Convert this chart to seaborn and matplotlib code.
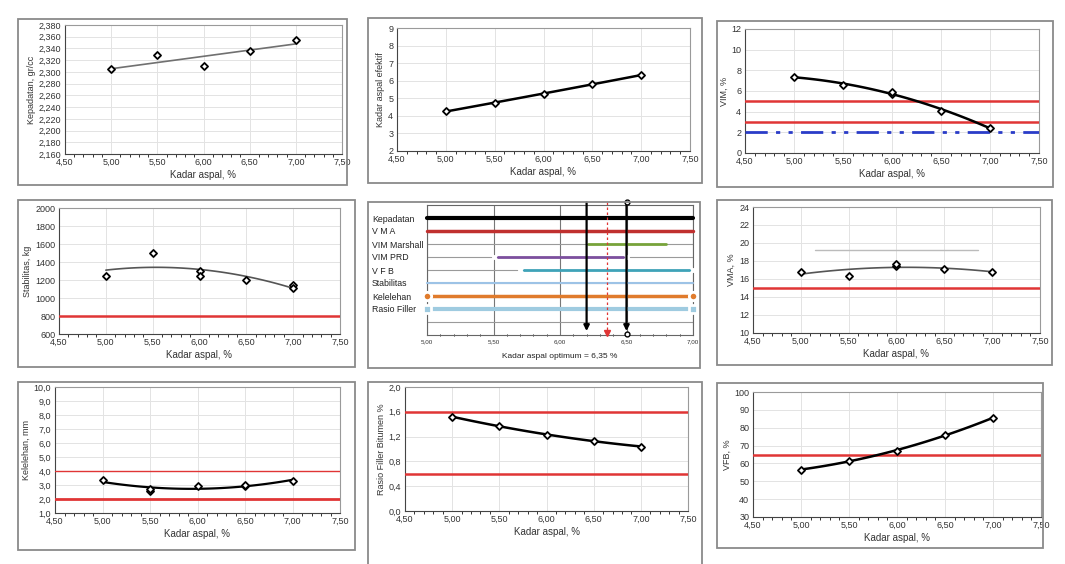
import numpy as np
import pandas as pd
import matplotlib
matplotlib.use("Agg")
import matplotlib.pyplot as plt
from matplotlib.patches import Rectangle
from matplotlib.ticker import FuncFormatter, MultipleLocator
import seaborn as sns

sns.set_style("white")
plt.rcParams['font.family'] = ['Liberation Sans', 'DejaVu Sans']

# ---------------- data ----------------
kadar = [5.0, 5.5, 6.0, 6.5, 7.0]

# Kepadatan
kep_x = [5.0, 5.5, 6.0, 6.5, 7.0]
kep_y = [2.305, 2.328, 2.310, 2.336, 2.354]
# Kadar aspal efektif
eff_y = [4.25, 4.75, 5.27, 5.80, 6.32]
# VIM
vim_x = [5.0, 5.5, 6.0, 6.0, 6.5, 7.0]
vim_y = [7.35, 6.6, 5.75, 5.9, 4.05, 2.45]
vim_limits = [5.0, 3.0]
vim_prd_limit = 2.0
# Stabilitas
stab_x = [5.0, 5.5, 6.0, 6.0, 6.5, 7.0, 7.0]
stab_y = [1245, 1500, 1300, 1245, 1200, 1140, 1110]
stab_limit = 800
# VMA
vma_x = [5.0, 5.5, 6.0, 6.0, 6.5, 7.0]
vma_y = [16.8, 16.35, 17.5, 17.7, 17.1, 16.75]
vma_limit = 15
vma_ref_line = [5.15, 6.85, 19.2]
# Kelelehan
flow_x = [5.0, 5.5, 5.5, 6.0, 6.5, 6.5, 7.0]
flow_y = [3.35, 2.6, 2.75, 2.9, 2.9, 3.0, 3.3]
flow_limits = [4.0, 2.0]
# Rasio filler bitumen
rfb_y = [1.52, 1.37, 1.23, 1.13, 1.04]
rfb_limits = [1.6, 0.6]
# VFB
vfb_y = [56.5, 61.5, 67.0, 76.0, 85.5]
vfb_limit = 65

# Summary chart (panel 5)
rows = ["Kepadatan", "V M A", "VIM Marshall", "VIM PRD", "V F B",
        "Stabilitas", "Kelelehan", "Rasio Filler"]
row_start = [5.0, 5.0, 6.21, 5.5, 5.7, 5.0, 5.0, 5.0]
row_end = [7.0, 7.0, 6.8, 6.5, 7.0, 7.0, 7.0, 7.0]
row_colors = ["#000000", "#c0302f", "#77a33a", "#7c4f9e", "#3fa3b8",
              "#9dc3e6", "#e07b2c", "#9fcbe0"]
row_markers = [None, None, None, "x", "x", None, "o", "s"]
row_lw = [3.0, 2.5, 2.0, 2.0, 2.0, 1.5, 2.5, 3.0]
range_bounds = [6.2, 6.5]
optimum = 6.35

# ---------------- layout ----------------
W, H = 1065, 564
fig = plt.figure(figsize=(W / 100, H / 100), dpi=100)
fig.patch.set_facecolor("white")


def box(x0, y0, x1, y1):
    fig.patches.append(Rectangle((x0 / W, 1 - y1 / H), (x1 - x0) / W, (y1 - y0) / H,
                                 transform=fig.transFigure, fill=False,
                                 edgecolor="#8a8a8a", lw=1.3))


def make_ax(x0, y0, x1, y1):
    return fig.add_axes([x0 / W, 1 - y1 / H, (x1 - x0) / W, (y1 - y0) / H])


def comma(dec):
    def f(v, pos):
        s = f"{v:.{dec}f}"
        return s.replace(".", ",")
    return FuncFormatter(f)


def style(ax, ylim, ystep, ydec, ylabel, xlabel="Kadar aspal, %"):
    ax.set_xlim(4.5, 7.5)
    ax.set_ylim(*ylim)
    ax.xaxis.set_major_locator(MultipleLocator(0.5))
    ax.xaxis.set_minor_locator(MultipleLocator(0.1))
    ax.yaxis.set_major_locator(MultipleLocator(ystep))
    ax.xaxis.set_major_formatter(comma(2))
    ax.yaxis.set_major_formatter(comma(ydec))
    ax.tick_params(axis="both", which="major", labelsize=6.5, length=2.5,
                   width=0.7, color="#333333", pad=1.5, labelcolor="#333333")
    ax.tick_params(axis="x", which="minor", length=2, width=0.7, color="#333333",
                   bottom=True)
    ax.tick_params(axis="both", direction="inout")
    ax.grid(True, which="major", color="#e3e3e3", lw=0.7)
    ax.set_axisbelow(True)
    for s in ["top", "right"]:
        ax.spines[s].set_color("#9a9a9a")
        ax.spines[s].set_linewidth(0.8)
    for s in ["left", "bottom"]:
        ax.spines[s].set_color("#444444")
        ax.spines[s].set_linewidth(0.8)
    ax.set_ylabel(ylabel, fontsize=6.5, color="#333333", labelpad=2)
    ax.set_xlabel(xlabel, fontsize=7, color="#333333", labelpad=2)


def pts(ax, x, y, size=13):
    sns.scatterplot(x=x, y=y, ax=ax, marker="D", s=size, facecolor="white",
                    edgecolor="black", linewidth=1.3, zorder=5, legend=False)


def trend(ax, x, y, deg, color="#555555", lw=1.2):
    c = np.polyfit(x, y, deg)
    xs = np.linspace(min(x), max(x), 100)
    sns.lineplot(x=xs, y=np.polyval(c, xs), ax=ax, color=color, lw=lw, zorder=4)


def red(ax, y, lw=1.8):
    ax.axhline(y, color="#e03535", lw=lw, zorder=3)


# Panel 1: Kepadatan
box(18, 19, 347, 185)
ax = make_ax(65, 25, 342, 154)
style(ax, (2.16, 2.38), 0.02, 3, "Kepadatan, gr/cc")
trend(ax, kep_x, kep_y, 1, color="#707070", lw=1.2)
pts(ax, kep_x, kep_y)

# Panel 2: Kadar aspal efektif
box(368, 18, 702, 183)
ax = make_ax(397, 28, 690, 151)
style(ax, (2, 9), 1, 0, "Kadar aspal efektif")
trend(ax, kadar, eff_y, 2, color="black", lw=1.8)
pts(ax, kadar, eff_y)

# Panel 3: VIM
box(717, 21, 1053, 187)
ax = make_ax(745, 29, 1039, 153)
style(ax, (0, 12), 2, 0, "VIM, %")
for v in vim_limits:
    red(ax, v)
ax.axhline(vim_prd_limit, color="#2a3cc8", lw=2.0, ls=(0, (8, 3, 1.5, 3, 1.5, 3)), zorder=3)
trend(ax, vim_x, vim_y, 2, color="black", lw=1.8)
pts(ax, vim_x, vim_y)

# Panel 4: Stabilitas
box(18, 200, 355, 367)
ax = make_ax(59, 208, 340, 334)
style(ax, (600, 2000), 200, 0, "Stabilitas, kg")
red(ax, stab_limit)
trend(ax, stab_x, stab_y, 2, color="#555555", lw=1.2)
pts(ax, stab_x, stab_y)

# Panel 5: summary chart
box(368, 202, 700, 368)
ax = make_ax(427, 205, 693, 335)
ax.set_xlim(5.0, 7.0)
ax.set_ylim(0, 10)
ax.xaxis.set_major_locator(MultipleLocator(0.5))
ax.xaxis.set_minor_locator(MultipleLocator(0.1))
ax.xaxis.set_major_formatter(comma(2))
ax.set_yticks(range(1, 10))
ax.set_yticklabels([])
ax.tick_params(axis="y", length=0)
ax.tick_params(axis="x", which="major", labelsize=4.5, length=2.5, width=0.7,
               direction="inout", pad=2, labelcolor="#333333")
ax.tick_params(axis="x", which="minor", length=2, width=0.7, direction="inout", bottom=True)
ax.grid(True, axis="y", color="#9a9a9a", lw=0.8)
ax.grid(True, axis="x", color="#777777", lw=0.8)
for s in ax.spines.values():
    s.set_color("#666666")
    s.set_linewidth(0.8)
for i, name in enumerate(rows):
    yv = 9 - i
    df = pd.DataFrame({"x": [row_start[i], row_end[i]], "y": [yv, yv]})
    sns.lineplot(data=df, x="x", y="y", ax=ax, color=row_colors[i], lw=row_lw[i],
                 marker=row_markers[i], markersize=6 if row_markers[i] else 0,
                 markeredgewidth=2, zorder=3, clip_on=False)
    ax.text(372 / W, 1 - (206 + (10 - yv) * 13) / H, name, transform=fig.transFigure,
            fontsize=6.3, va="center", ha="left", color="#222222")
for xb in range_bounds:
    ax.annotate("", xy=(xb, 0.3), xytext=(xb, 10.2), annotation_clip=False,
                arrowprops=dict(arrowstyle="-|>", color="black", lw=1.6,
                                mutation_scale=8, shrinkA=0, shrinkB=0), zorder=6)
ax.plot([range_bounds[1]] * 2, [10.2, 0.05], ls="none", marker="o", ms=3.5,
        mfc="white", mec="black", clip_on=False, zorder=7)
ax.plot([optimum, optimum], [10.2, 0.1], color="#e03535", lw=0.9, ls=(0, (2, 2)),
        clip_on=False, zorder=5)
ax.plot([optimum], [0.15], marker="v", color="#e03535", ms=4.5, clip_on=False, zorder=7)
ax.set_xlabel("Kadar aspal optimum = 6,35 %", fontsize=6, color="#222222", labelpad=6)
ax.set_ylabel("")

# Panel 6: VMA
box(717, 200, 1052, 365)
ax = make_ax(753, 207, 1040, 333)
style(ax, (10, 24), 2, 0, "VMA, %")
red(ax, vma_limit)
ax.plot(vma_ref_line[:2], [vma_ref_line[2]] * 2, color="#bbbbbb", lw=1.0, zorder=3)
trend(ax, vma_x, vma_y, 2, color="#555555", lw=1.2)
pts(ax, vma_x, vma_y)

# Panel 7: Kelelehan
box(18, 382, 355, 550)
ax = make_ax(55, 387, 340, 513)
style(ax, (1, 10), 1, 1, "Kelelehan, mm")
red(ax, flow_limits[0], lw=1.0)
red(ax, flow_limits[1], lw=2.0)
trend(ax, flow_x, flow_y, 2, color="black", lw=1.6)
pts(ax, flow_x, flow_y)

# Panel 8: Rasio filler bitumen
box(368, 382, 702, 566)
ax = make_ax(405, 387, 688, 511)
style(ax, (0, 2), 0.4, 1, "Rasio Filler Bitumen %")
for v in rfb_limits:
    red(ax, v)
trend(ax, kadar, rfb_y, 2, color="black", lw=1.8)
pts(ax, kadar, rfb_y)

# Panel 9: VFB
box(717, 383, 1043, 548)
ax = make_ax(753, 392, 1041, 517)
style(ax, (30, 100), 10, 0, "VFB, %")
red(ax, vfb_limit)
trend(ax, kadar, vfb_y, 2, color="black", lw=1.8)
pts(ax, kadar, vfb_y)

fig.savefig("out.png", dpi=100, facecolor="white")
